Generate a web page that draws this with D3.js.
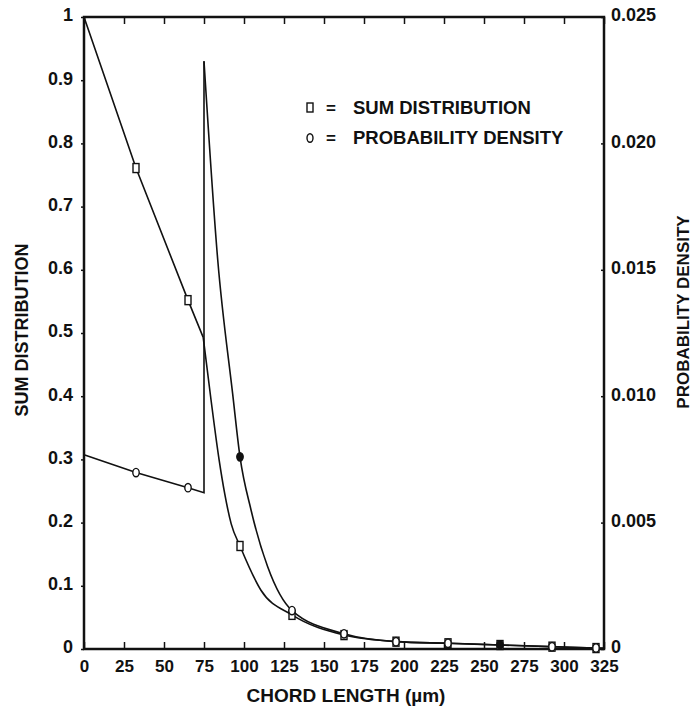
<!DOCTYPE html>
<html>
<head>
<meta charset="utf-8">
<script src="https://cdn.jsdelivr.net/npm/d3@7"></script>
<style>
  body { margin: 0; background: #fff; }
  svg { display: block; }
  text { font-family: "Liberation Sans", Arial, Helvetica, sans-serif; font-weight: bold; fill: #111; }
</style>
</head>
<body>
<svg></svg>
<script>
// chord length (um) ticks and both y axis ticks
var xTicks = [0, 25, 50, 75, 100, 125, 150, 175, 200, 225, 250, 275, 300, 325];
var sumTicks = [0, 0.1, 0.2, 0.3, 0.4, 0.5, 0.6, 0.7, 0.8, 0.9, 1];
var densTicks = [0, 0.005, 0.010, 0.015, 0.020, 0.025];

// sum distribution: straight part up to 75 um, then the decaying curve
var sumHead = [[0, 1.0], [32.5, 0.761], [65, 0.552], [74.5, 0.493]];
var sumTail = [[74.5, 0.493], [79.4, 0.394], [84.4, 0.30], [88, 0.245], [92, 0.198], [97.5, 0.163],
               [110.6, 0.093], [130, 0.054], [162.5, 0.022], [195, 0.0116], [227.5, 0.009],
               [260, 0.0063], [292.5, 0.0037], [325, 0.0012]];

// probability density: flat-ish part, jump at 75 um, then decay
var densHead = [[0, 0.00768], [32.5, 0.00698], [65, 0.00638], [75, 0.00618], [75, 0.02325]];
var densTail = [[75, 0.02325], [83.6, 0.01538], [92.9, 0.0101], [97.5, 0.0076], [104.4, 0.0055],
                [114.8, 0.00325], [130, 0.00152], [162.5, 0.0006], [195, 0.00029], [227.5, 0.000225],
                [260, 0.00016], [292.5, 0.00009], [325, 0.00003]];

// measured points (markers)
var markX = [32.5, 65, 97.5, 130, 162.5, 195, 227.5, 260, 292.5, 320];
var sumMarks = [0.761, 0.552, 0.163, 0.054, 0.022, 0.0116, 0.009, 0.0063, 0.0037, 0.0015];
var densMarks = [0.00698, 0.00638, 0.0076, 0.00152, 0.0006, 0.00029, 0.000225, 0.00016, 0.00009, 0.00004];
var densFilled = [97.5, 260];

var width = 695, height = 709;
var plotL = 84, plotR = 604, plotT = 17, plotB = 649;

var svg = d3.select("svg")
    .attr("width", width)
    .attr("height", height);

var x = d3.scaleLinear().domain([0, 325]).range([plotL, plotR]);
var ySum = d3.scaleLinear().domain([0, 1]).range([plotB, plotT]);
var yDens = d3.scaleLinear().domain([0, 0.025]).range([plotB, plotT]);

// axes (ticks and labels only, frame drawn below)
var xAxis = svg.append("g")
    .attr("transform", "translate(0," + plotB + ")")
    .call(d3.axisBottom(x).tickValues(xTicks).tickSizeInner(-7).tickSizeOuter(0).tickPadding(11));
xAxis.selectAll("text").style("font-size", "17px");

svg.append("g")
    .attr("transform", "translate(0," + plotT + ")")
    .call(d3.axisTop(x).tickValues(xTicks).tickSizeInner(-7).tickSizeOuter(0).tickFormat(""));

var yAxisL = svg.append("g")
    .attr("transform", "translate(" + plotL + ",0)")
    .call(d3.axisLeft(ySum).tickValues(sumTicks).tickSizeInner(3).tickSizeOuter(0).tickPadding(8)
        .tickFormat(function(d) { return d === 0 ? "0" : d === 1 ? "1" : d3.format(".1f")(d); }));
yAxisL.selectAll("text").style("font-size", "18px").attr("dy", "0.22em");

var yAxisR = svg.append("g")
    .attr("transform", "translate(" + plotR + ",0)")
    .call(d3.axisRight(yDens).tickValues(densTicks).tickSizeInner(-3).tickSizeOuter(0).tickPadding(7)
        .tickFormat(function(d) { return d === 0 ? "0" : d3.format(".3f")(d); }));
yAxisR.selectAll("text").style("font-size", "18px").attr("dy", "0.22em");

svg.selectAll(".domain").remove();
svg.selectAll(".tick line").attr("stroke", "#111").attr("stroke-width", 1.5);

// frame
svg.append("rect")
    .attr("x", plotL)
    .attr("y", plotT)
    .attr("width", plotR - plotL)
    .attr("height", plotB - plotT)
    .attr("fill", "none")
    .attr("stroke", "#111")
    .attr("stroke-width", 2.5);

// curves
var lineSum = d3.line()
    .x(function(d) { return x(d[0]); })
    .y(function(d) { return ySum(d[1]); });
var lineDens = d3.line()
    .x(function(d) { return x(d[0]); })
    .y(function(d) { return yDens(d[1]); });

var curves = svg.append("g")
    .attr("fill", "none")
    .attr("stroke", "#111")
    .attr("stroke-width", 1.6);

curves.append("path").attr("d", lineSum(sumHead));
curves.append("path").attr("d", lineSum.curve(d3.curveMonotoneX)(sumTail));
curves.append("path").attr("d", lineDens(densHead));
curves.append("path").attr("d", lineDens.curve(d3.curveMonotoneX)(densTail));

// markers
svg.append("g")
    .selectAll("rect")
    .data(markX)
    .enter().append("rect")
    .attr("x", function(d) { return x(d) - 3; })
    .attr("y", function(d, i) { return ySum(sumMarks[i]) - 4.5; })
    .attr("width", 6)
    .attr("height", 9)
    .attr("fill", "#fff")
    .attr("stroke", "#111")
    .attr("stroke-width", 1.4);

svg.append("g")
    .selectAll("ellipse")
    .data(markX)
    .enter().append("ellipse")
    .attr("cx", function(d) { return x(d); })
    .attr("cy", function(d, i) { return yDens(densMarks[i]); })
    .attr("rx", 3.2)
    .attr("ry", 4.2)
    .attr("fill", function(d) { return densFilled.indexOf(d) >= 0 ? "#111" : "#fff"; })
    .attr("stroke", "#111")
    .attr("stroke-width", 1.4);

// legend
var legend = svg.append("g");
legend.append("rect")
    .attr("x", 307).attr("y", 103).attr("width", 6).attr("height", 9)
    .attr("fill", "#fff").attr("stroke", "#111").attr("stroke-width", 1.4);
legend.append("ellipse")
    .attr("cx", 310).attr("cy", 138).attr("rx", 3).attr("ry", 4.2)
    .attr("fill", "#fff").attr("stroke", "#111").attr("stroke-width", 1.4);
legend.selectAll("text.eq")
    .data([108, 138])
    .enter().append("text")
    .attr("class", "eq")
    .attr("x", 331).attr("y", function(d) { return d; })
    .attr("dy", "0.35em")
    .attr("text-anchor", "middle")
    .style("font-size", "17px")
    .text("=");
legend.selectAll("text.lab")
    .data(["SUM DISTRIBUTION", "PROBABILITY DENSITY"])
    .enter().append("text")
    .attr("class", "lab")
    .attr("x", 353)
    .attr("y", function(d, i) { return 108 + i * 30; })
    .attr("dy", "0.35em")
    .style("font-size", "18.5px")
    .text(function(d) { return d; });

// axis titles
svg.append("text")
    .attr("x", 346).attr("y", 702)
    .attr("text-anchor", "middle")
    .style("font-size", "19px")
    .text("CHORD LENGTH (\u00b5m)");

svg.append("text")
    .attr("transform", "translate(28,330) rotate(-90)")
    .attr("text-anchor", "middle")
    .style("font-size", "18px")
    .text("SUM DISTRIBUTION");

svg.append("text")
    .attr("transform", "translate(689,312) rotate(-90)")
    .attr("text-anchor", "middle")
    .style("font-size", "17px")
    .text("PROBABILITY DENSITY");
</script>
</body>
</html>
